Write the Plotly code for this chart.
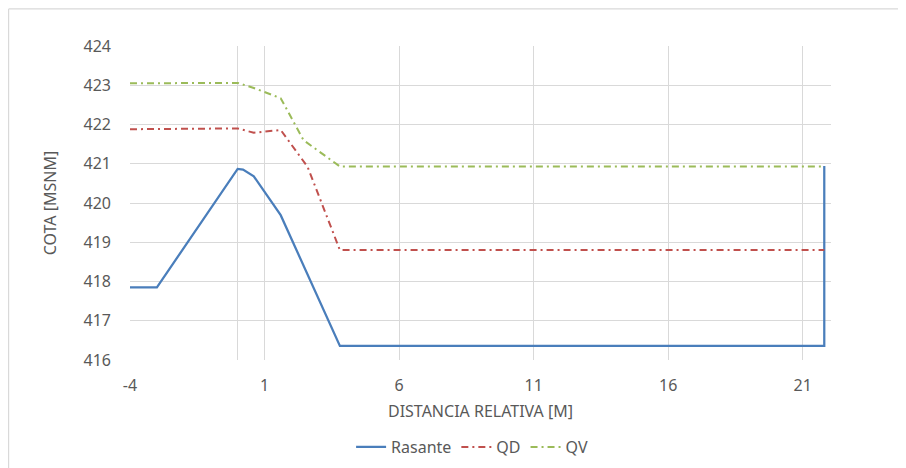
import plotly.graph_objects as go

# Data
rasante_x = [-4, -3, 0, 0.2, 0.6, 1.6, 3.8, 21.8, 21.8]
rasante_y = [417.85, 417.85, 420.87, 420.85, 420.68, 419.69, 416.36, 416.36, 420.94]

qd_x = [-4, 0, 0.6, 1.6, 2.6, 3.8, 21.8]
qd_y = [421.88, 421.90, 421.79, 421.86, 420.92, 418.80, 418.80]

qv_x = [-4, 0, 0.6, 1.6, 2.45, 3.8, 21.8]
qv_y = [423.05, 423.06, 422.93, 422.67, 421.60, 420.93, 420.93]

x_ticks = [-4, 1, 6, 11, 16, 21]
y_ticks = [416, 417, 418, 419, 420, 421, 422, 423, 424]

FONT = "Noto Sans, Liberation Sans, sans-serif"
GRID = "#d9d9d9"
TXT = "#595959"

fig = go.Figure()
fig.add_trace(go.Scatter(x=rasante_x, y=rasante_y, mode="lines", name="Rasante",
                         line=dict(color="#4a7ebb", width=2.25)))
fig.add_trace(go.Scatter(x=qd_x, y=qd_y, mode="lines", name="QD",
                         line=dict(color="#c0504d", width=2, dash="7px,4px,2px,4px")))
fig.add_trace(go.Scatter(x=qv_x, y=qv_y, mode="lines", name="QV",
                         line=dict(color="#9bbb59", width=2, dash="7px,4px,2px,4px")))

fig.update_layout(
    width=898, height=460,
    margin=dict(l=122, r=75, t=38, b=108, autoexpand=False),
    paper_bgcolor="white", plot_bgcolor="white",
    font=dict(family=FONT, size=16, color=TXT),
    showlegend=True,
    legend=dict(orientation="h", x=0.488, xanchor="center", y=-0.277, yanchor="middle",
                font=dict(size=16, color=TXT), itemwidth=30, tracegroupgap=0),
    shapes=[
        dict(type="line", xref="paper", yref="paper", x0=-0.1732, x1=-0.1732, y0=-0.36, y1=1.118,
             line=dict(color=GRID, width=1.2)),
        dict(type="line", xref="paper", yref="paper", x0=-0.1732, x1=1.15, y0=1.118, y1=1.118,
             line=dict(color=GRID, width=1.2)),
    ],
)

fig.update_xaxes(
    range=[-4, 22.05], tickmode="array", tickvals=x_ticks, ticktext=[str(v) for v in x_ticks],
    showgrid=True, gridcolor=GRID, gridwidth=1,
    zeroline=True, zerolinecolor=GRID, zerolinewidth=1,
    showline=False, ticks="", ticklabelstandoff=14, automargin=False,
    tickfont=dict(size=16, color=TXT),
    title=dict(text="DISTANCIA RELATIVA [M]", font=dict(size=16, color=TXT), standoff=10),
)
fig.update_yaxes(
    range=[416, 424], tickmode="array", tickvals=y_ticks, ticktext=[str(v) for v in y_ticks],
    showgrid=True, gridcolor=GRID, gridwidth=1, zeroline=False,
    showline=False, ticks="", ticklabelstandoff=18, automargin=False,
    tickfont=dict(size=16, color=TXT),
    title=dict(text="COTA [MSNM]", font=dict(size=16, color=TXT), standoff=22),
)

fig.write_html("out.html")
